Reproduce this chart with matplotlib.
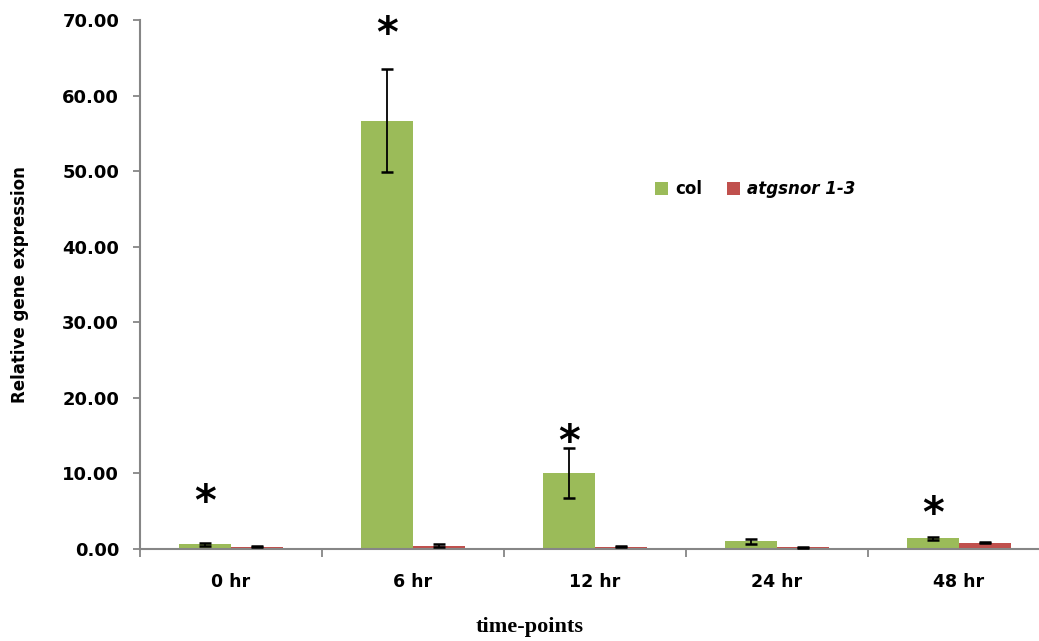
import numpy as np
import matplotlib.pyplot as plt
from matplotlib.ticker import FormatStrFormatter

# valores
categorias = ['0 hr', '6 hr', '12 hr', '24 hr', '48 hr']
col_vals = [0.6, 56.7, 10.0, 1.0, 1.4]
col_err = [0.15, 6.8, 3.3, 0.35, 0.15]
snor_vals = [0.3, 0.45, 0.3, 0.2, 0.85]
snor_err = [0.1, 0.15, 0.1, 0.12, 0.1]
estrellas = [6.1, 68.0, 14.0, None, 4.5]

verde = '#9BBB59'
rojo = '#C0504D'
gris = '#868686'

fig = plt.figure(figsize=(10.39, 6.41), dpi=100)
ax = fig.add_axes([140 / 1039, 92 / 641, 910 / 1039, 529 / 641])

x = np.arange(len(categorias))
w = 0.286
ax.bar(x - w / 2, col_vals, w, color=verde, label='col', zorder=2)
ax.bar(x + w / 2, snor_vals, w, color=rojo, label='atgsnor 1-3', zorder=2)
ax.errorbar(x - w / 2, col_vals, yerr=col_err, fmt='none', ecolor='black',
            elinewidth=1.3, capsize=4.5, capthick=1.8, zorder=3)
ax.errorbar(x + w / 2, snor_vals, yerr=snor_err, fmt='none', ecolor='black',
            elinewidth=1.3, capsize=4.5, capthick=1.8, zorder=3)

# asteriscos de significancia
for i, s in enumerate(estrellas):
    if s is not None:
        ax.text(x[i] - w / 2, s, '*', ha='center', va='center',
                fontsize=30, fontweight='bold', clip_on=False)

ax.set_xlim(-0.5, 4.5)
ax.set_ylim(0, 70)
ax.set_yticks(np.arange(0, 71, 10))
ax.yaxis.set_major_formatter(FormatStrFormatter('%.2f'))

ax.set_xticks(np.arange(-0.5, 5, 1))
ax.set_xticklabels([])
ax.set_xticks(x, minor=True)
ax.set_xticklabels(categorias, minor=True, fontsize=12.5, fontweight='bold')
ax.tick_params(axis='x', which='minor', length=0, pad=17)
ax.tick_params(axis='x', which='major', length=6, color=gris, width=1.3)
ax.tick_params(axis='y', length=5, color=gris, width=1.3, labelsize=13, pad=10)
for t in ax.get_yticklabels():
    t.set_fontweight('bold')

for side in ['top', 'right']:
    ax.spines[side].set_visible(False)
for side in ['left', 'bottom']:
    ax.spines[side].set_color(gris)
    ax.spines[side].set_linewidth(1.5)

ax.set_ylabel('Relative gene expression', fontsize=12, fontweight='bold')
ax.yaxis.set_label_coords(-111 / 910, 0.5)

fig.text(530 / 1039, 1 - 627 / 641, 'time-points', ha='center', va='center',
         fontsize=16, fontweight='bold', family='Liberation Serif')

leg = ax.legend(loc='center left', bbox_to_anchor=(640 / 910 - 140 / 910, (549 - 189) / 529),
                ncol=2, frameon=False, handlelength=0.8, handleheight=0.8,
                handletextpad=0.4, columnspacing=1.5, prop={'weight': 'bold', 'size': 12})
leg.get_texts()[1].set_fontstyle('italic')

fig.savefig('out.png', dpi=100)
